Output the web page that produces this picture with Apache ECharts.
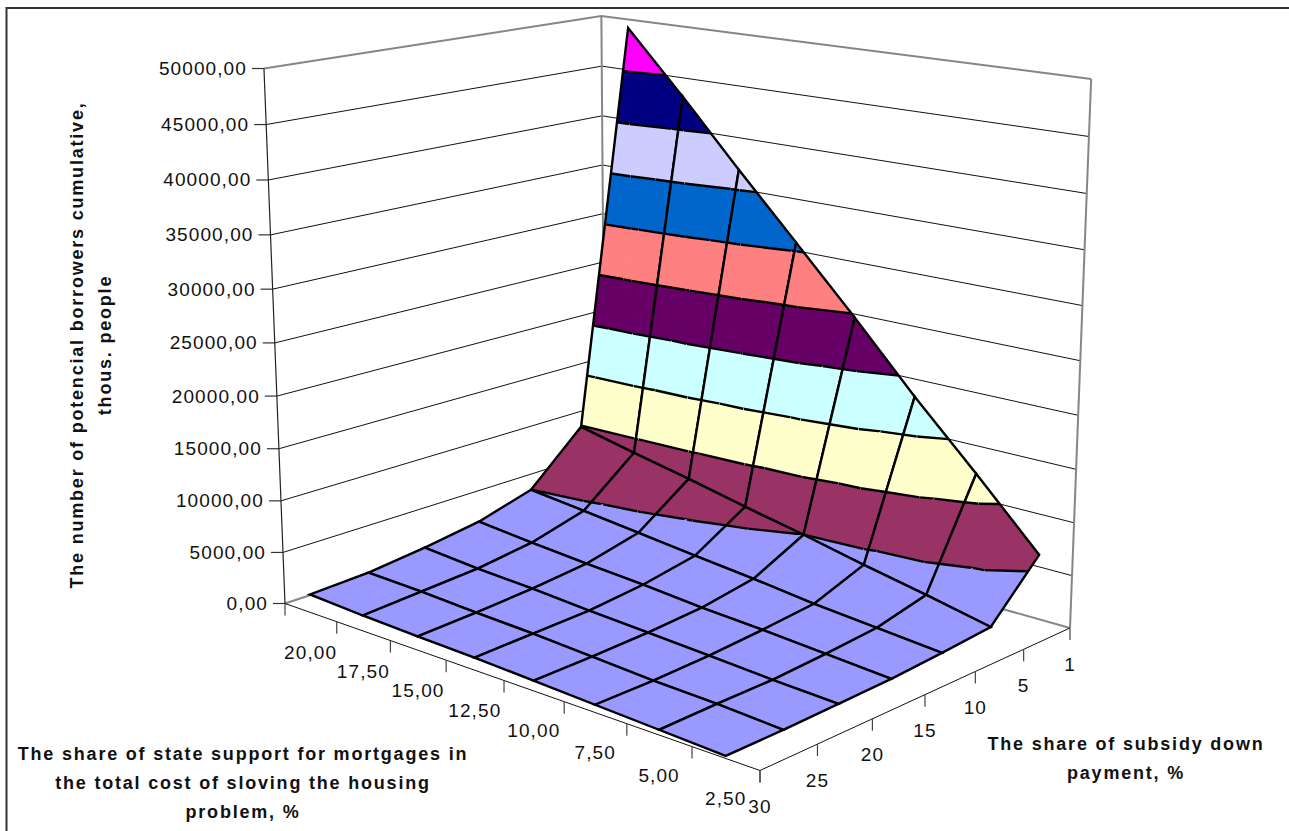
<!DOCTYPE html>
<html>
<head>
<meta charset="utf-8">
<title>Potential borrowers surface</title>
<script src="https://cdn.jsdelivr.net/npm/echarts@6/dist/echarts.min.js"></script>
<style>
  html, body { margin: 0; padding: 0; background: #fff; }
  #chart { width: 1289px; height: 831px; }
  #chart text { letter-spacing: 1.1px; }
  #chart text[style*="bold"] { letter-spacing: 1.8px; }
</style>
</head>
<body>
<div id="chart"></div>
<script>
// tick labels
const supportLabels = ['20,00', '17,50', '15,00', '12,50', '10,00', '7,50', '5,00', '2,50'];
const subsidyLabels = ['1', '5', '10', '15', '20', '25', '30'];
const levels = [0, 5000, 10000, 15000, 20000, 25000, 30000, 35000, 40000, 45000, 50000];
const levelLabels = ['0,00', '5000,00', '10000,00', '15000,00', '20000,00', '25000,00', '30000,00', '35000,00', '40000,00', '45000,00', '50000,00'];

// one row per subsidy share, columns follow supportLabels
const subsidy1 = [49160, 43140, 36880, 30790, 24660, 18310, 12330, 6140];
const subsidy5 = [9880, 8630, 7460, 6180, 4990, 3690, 2490, 1200];
const subsidy10 = [4980, 4380, 3750, 3100, 2520, 1830, 1320, 790];
const subsidy15 = [3450, 2940, 2500, 2130, 1650, 1330, 910, 480];
const subsidy20 = [2620, 2200, 1940, 1560, 1260, 940, 600, 350];
const subsidy25 = [2000, 1850, 1570, 1370, 1050, 730, 570, 230];
const subsidy30 = [1760, 1490, 1300, 1170, 940, 700, 460, 220];
const rows = [subsidy1, subsidy5, subsidy10, subsidy15, subsidy20, subsidy25, subsidy30];

const bandColors = ['#9999FF', '#993366', '#FFFFCC', '#CCFFFF', '#660066', '#FF8080', '#0066CC', '#CCCCFF', '#000080', '#FF00FF'];

const yTitle = ['The number of potencial borrowers cumulative,', 'thous. people'];
const supportTitle = ['The share of state support for mortgages in', 'the total cost of sloving the housing', 'problem, %'];
const subsidyTitle = ['The share of subsidy down', 'payment, %'];

const LABEL_FONT = 'Liberation Sans';

// perspective box: floor corners and the point the verticals run to
const P0 = [605, 497], P1 = [1070, 628], P2 = [760, 770.5], P3 = [285, 603.5];
const VANISH = [682, 10700];
const LAMBDA = -0.04502;

const det = (u, v) => u[0] * v[1] - u[1] * v[0];
const dx1 = [P1[0] - P2[0], P1[1] - P2[1]];
const dx2 = [P3[0] - P2[0], P3[1] - P2[1]];
const sum = [P0[0] - P1[0] + P2[0] - P3[0], P0[1] - P1[1] + P2[1] - P3[1]];
const G = det(sum, dx2) / det(dx1, dx2);
const H = det(dx1, sum) / det(dx1, dx2);

// a runs along the support axis, b along the subsidy axis, z is the value
function project(a, b, z) {
  const t = LAMBDA * z / levels[levels.length - 1];
  const w = 1 + G * a + H * b + t;
  const x = (P1[0] - P0[0] + G * P1[0]) * a + (P3[0] - P0[0] + H * P3[0]) * b + P0[0] + t * VANISH[0];
  const y = (P1[1] - P0[1] + G * P1[1]) * a + (P3[1] - P0[1] + H * P3[1]) * b + P0[1] + t * VANISH[1];
  return [x / w, y / w];
}

const supportPos = (i) => (i + 0.5) / supportLabels.length;
const subsidyPos = (j) => j / (subsidyLabels.length - 1);
const vertex = (i, j) => ({ a: supportPos(i), b: subsidyPos(j), z: rows[j][i] });
const toPx = (p) => project(p.a, p.b, p.z);

function lerpAt(p, q, level) {
  const t = (level - p.z) / (q.z - p.z);
  return { a: p.a + (q.a - p.a) * t, b: p.b + (q.b - p.b) * t, z: level };
}

function clip(poly, level, keepAbove) {
  const out = [];
  poly.forEach((p, n) => {
    const q = poly[(n + 1) % poly.length];
    const pIn = keepAbove ? p.z >= level : p.z <= level;
    const qIn = keepAbove ? q.z >= level : q.z <= level;
    if (pIn) out.push(p);
    if (pIn !== qIn) out.push(lerpAt(p, q, level));
  });
  return out;
}

function triangleChildren(tri) {
  const fills = [], lines = [];
  bandColors.forEach((color, k) => {
    let poly = clip(tri, levels[k], true);
    if (poly.length) poly = clip(poly, levels[k + 1], false);
    if (poly.length < 3) return;
    fills.push({
      type: 'polygon',
      shape: { points: poly.map(toPx) },
      style: { fill: color, stroke: color, lineWidth: 1 }
    });
  });
  levels.forEach((level) => {
    const cut = [];
    tri.forEach((p, n) => {
      const q = tri[(n + 1) % 3];
      if ((p.z < level) !== (q.z < level)) cut.push(lerpAt(p, q, level));
    });
    if (cut.length === 2) {
      lines.push({
        type: 'polyline',
        shape: { points: cut.map(toPx) },
        style: { fill: 'none', stroke: '#000', lineWidth: 2.4 }
      });
    }
  });
  return fills.concat(lines);
}

function renderCell(params, api) {
  const i = api.value(0), j = api.value(1);
  const c00 = vertex(i, j), c10 = vertex(i + 1, j), c01 = vertex(i, j + 1), c11 = vertex(i + 1, j + 1);
  const mid = {
    a: (c00.a + c11.a) / 2,
    b: (c00.b + c11.b) / 2,
    z: (c00.z + c10.z + c01.z + c11.z) / 4
  };
  const tris = [[c00, c10, mid], [c00, c01, mid], [c10, c11, mid], [c01, c11, mid]];
  let children = [];
  tris.forEach((tri) => { children = children.concat(triangleChildren(tri)); });
  children.push({
    type: 'polygon',
    shape: { points: [c00, c10, c11, c01].map(toPx) },
    style: { fill: 'none', stroke: '#000', lineWidth: 2.4 }
  });
  return { type: 'group', children };
}

function line(points, stroke, lineWidth) {
  return { type: 'polyline', shape: { points }, style: { fill: 'none', stroke, lineWidth } };
}

function label(text, x, y, align) {
  return {
    type: 'text',
    style: {
      text, x, y, align, verticalAlign: 'middle', fill: '#111',
      fontFamily: LABEL_FONT, fontSize: 19
    }
  };
}

function renderLevel(params, api) {
  const level = api.value(0);
  const edge = level === 0 || level === levels[levels.length - 1];
  const left = project(0, 1, level);
  return {
    type: 'group',
    children: [
      line([left, project(0, 0, level), project(1, 0, level)], edge ? '#868686' : '#111', edge ? 2 : 1),
      line([[left[0] - 12, left[1]], left], '#333', 1.2),
      label(levelLabels[params.dataIndex], left[0] - 17, left[1], 'right')
    ]
  };
}

function renderWalls() {
  const top = levels[levels.length - 1];
  return {
    type: 'group',
    children: [
      line([project(0, 0, 0), project(0, 0, top)], '#868686', 2),
      line([project(1, 0, 0), project(1, 0, top)], '#868686', 2),
      line([project(0, 1, 0), project(0, 1, top)], '#222', 1.2),
      line([project(0, 1, 0), project(1, 1, 0), project(1, 0, 0)], '#111', 1)
    ]
  };
}

function renderSupportTick(params, api) {
  const k = api.value(0);
  const n = supportLabels.length;
  const p = project(k / n, 1, 0);
  const children = [line([p, [p[0], p[1] + 12]], '#444', 1.2)];
  if (k < n) {
    const c = project((k + 0.5) / n, 1, 0);
    children.push(label(supportLabels[k], c[0], c[1] + 40, 'center'));
  }
  return { type: 'group', children };
}

function renderSubsidyTick(params, api) {
  const p = project(1, subsidyPos(api.value(0)), 0);
  return {
    type: 'group',
    children: [
      line([p, [p[0], p[1] + 12]], '#444', 1.2),
      label(subsidyLabels[api.value(0)], p[0], p[1] + 36, 'center')
    ]
  };
}

const cellData = [];
for (let j = 0; j < subsidyLabels.length - 1; j++) {
  for (let i = 0; i < supportLabels.length - 1; i++) cellData.push([i, j]);
}
const indexData = (n) => Array.from({ length: n }, (_, k) => [k]);

function custom(name, data, renderItem) {
  return { type: 'custom', name, coordinateSystem: 'none', silent: true, animation: false, data, renderItem };
}

function titleText(text, x, y, rotation) {
  return {
    type: 'text', x, y, rotation: rotation || 0, silent: true,
    style: {
      text, align: 'center', verticalAlign: 'middle', fill: '#111',
      fontFamily: LABEL_FONT, fontSize: 18, fontWeight: 'bold'
    }
  };
}

const chart = echarts.init(document.getElementById('chart'), null, { renderer: 'svg' });

chart.setOption({
  animation: false,
  backgroundColor: '#fff',
  graphic: [
    { type: 'polyline', silent: true, shape: { points: [[6.5, 831], [6.5, 8], [1289, 8]] }, style: { fill: 'none', stroke: '#333', lineWidth: 2 } },
    titleText(yTitle[0], 77, 345, Math.PI / 2),
    titleText(yTitle[1], 105, 345, Math.PI / 2),
    titleText(supportTitle[0], 243, 754),
    titleText(supportTitle[1], 243, 783),
    titleText(supportTitle[2], 243, 812),
    titleText(subsidyTitle[0], 1126, 744),
    titleText(subsidyTitle[1], 1126, 773)
  ],
  series: [
    custom('levels', levels.map((v) => [v]), renderLevel),
    custom('walls', [[0]], renderWalls),
    custom('supportTicks', indexData(supportLabels.length + 1), renderSupportTick),
    custom('subsidyTicks', indexData(subsidyLabels.length), renderSubsidyTick),
    custom('surface', cellData, renderCell)
  ]
});
</script>
</body>
</html>
